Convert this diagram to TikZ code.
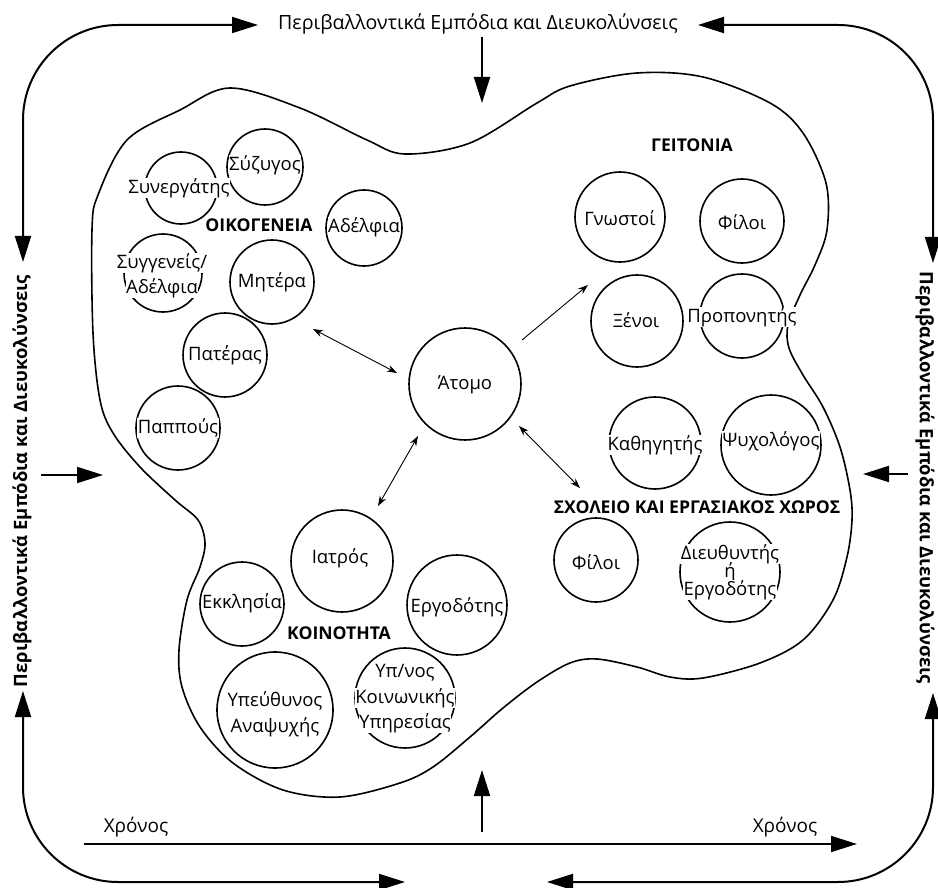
\documentclass[tikz,border=0pt]{standalone}
\usepackage{fontspec}
\setmainfont{Open Sans}
\usetikzlibrary{arrows.meta}
\begin{document}
\begin{tikzpicture}[x=1pt,y=-1pt,
  lbl/.style={font=\fontsize{18.5}{25.5}\selectfont, fill=white, inner sep=0.5pt, align=center},
  bl/.style={lbl, anchor=base},
  hdr/.style={font=\bfseries\fontsize{17.6}{20}\selectfont, inner sep=0pt},
  side/.style={font=\bfseries\fontsize{18.4}{20}\selectfont, inner sep=0pt},
  ttl/.style={font=\fontsize{19.6}{22}\selectfont, inner sep=0pt},
  circ/.style={draw, circle, line width=1.6pt, inner sep=0pt},
  frame/.style={line width=2pt},
  bigtip/.style={-{Triangle[length=26pt,width=16pt]}},
  bothtip/.style={{Triangle[length=26pt,width=16pt]}-{Triangle[length=26pt,width=16pt]}},
  thin/.style={line width=0.9pt, {Stealth[length=10pt,width=7pt]}-{Stealth[length=10pt,width=7pt]}},
  thinone/.style={line width=0.9pt, -{Stealth[length=10pt,width=7pt]}}
]
\useasboundingbox (0,0) rectangle (938,888);

% blob
\draw[line width=1.6pt] plot[smooth cycle, tension=0.55] coordinates {
 (92,230) (98,195) (127,140) (180,110) (230,88) (300,108) (367,140) (405,154)
 (470,143) (537,103) (570,86) (637,73) (703,77) (770,103) (803,133) (826,183)
 (827,230) (815,265) (800,295) (788,325) (789,348) (803,375) (823,407) (840,447)
 (850,490) (852,520) (847,557) (833,600) (803,640) (760,663) (703,678) (670,677)
 (637,667) (597,659) (570,663) (537,682) (503,708) (470,737) (433,767) (400,783)
 (340,797) (283,790) (233,763) (200,727) (182,687) (179,650) (187,600) (200,567)
 (205,543) (198,520) (175,500) (140,467) (113,433) (100,400) (93,333)};

% circles
\node[circ, minimum size=76pt] (syz) at (265,167) {};
\node[circ, minimum size=72pt] (syn) at (181,188) {};
\node[circ, minimum size=76pt] (adel) at (364,228) {};
\node[circ, minimum size=78pt] (syg) at (163,273) {};
\node[circ, minimum size=84pt] (mit) at (272,282) {};
\node[circ, minimum size=84pt] (pat) at (225,355) {};
\node[circ, minimum size=84pt] (pap) at (178,428) {};
\node[circ, minimum size=112pt] (atomo) at (465,384) {};
\node[circ, minimum size=90pt] (gnos) at (620,217) {};
\node[circ, minimum size=84pt] (fil) at (742,221) {};
\node[circ, minimum size=92pt] (xen) at (637,321) {};
\node[circ, minimum size=84pt] (prop) at (742,316) {};
\node[circ, minimum size=92pt] (kath) at (655,443) {};
\node[circ, minimum size=100pt] (psy) at (771,445) {};
\node[circ, minimum size=84pt] (fil2) at (596,560) {};
\node[circ, minimum size=100pt] (dieu) at (730,572) {};
\node[circ, minimum size=102pt] (iatr) at (342,561) {};
\node[circ, minimum size=84pt] (ekkl) at (242,604) {};
\node[circ, minimum size=100pt] (ergo) at (457,605) {};
\node[circ, minimum size=116pt] (ypeu) at (275,710) {};
\node[circ, minimum size=100pt] (ypn) at (405,698) {};

% labels
\node[lbl] (syz-t) at (265,165) {Σύζυγος};
\node[lbl] (syn-t) at (179,188) {Συνεργάτης};
\node[lbl] (adel-t) at (364,227) {Αδέλφια};
\node[bl] (syg-t1) at (162,268) {Συγγενείς/};
\node[bl] (syg-t2) at (162,293) {Αδέλφια};
\node[lbl] (mit-t) at (272,282) {Μητέρα};
\node[lbl] (pat-t) at (225,355) {Πατέρας};
\node[lbl] (pap-t) at (178,428) {Παππούς};
\node[lbl] (atomo-t) at (465,385) {Άτομο};
\node[lbl] (gnos-t) at (620,218) {Γνωστοί};
\node[lbl] (fil-t) at (742,222) {Φίλοι};
\node[lbl] (xen-t) at (636,320) {Ξένοι};
\node[lbl] (prop-t) at (742,317) {Προπονητής};
\node[lbl] (kath-t) at (655,445) {Καθηγητής};
\node[lbl] (psy-t) at (771,441) {Ψυχολόγος};
\node[lbl] (fil2-t) at (596,562) {Φίλοι};
\node[bl] (dieu-t1) at (730,559) {Διευθυντής};
\node[bl] (dieu-t2) at (730,577) {ή};
\node[bl] (dieu-t3) at (730,595) {Εργοδότης};
\node[lbl] (iatr-t) at (340,558) {Ιατρός};
\node[lbl] (ekkl-t) at (242,603) {Εκκλησία};
\node[lbl] (ergo-t) at (457,607) {Εργοδότης};
\node[bl] (ypeu-t1) at (275,706) {Υπεύθυνος};
\node[bl] (ypeu-t2) at (275,732) {Αναψυχής};
\node[bl] (ypn-t1) at (405,677) {Υπ/νος};
\node[bl] (ypn-t2) at (405,703) {Κοινωνικής};
\node[bl] (ypn-t3) at (405,728) {Υπηρεσίας};

% headings
\node[hdr] (h-oik) at (259,225) {ΟΙΚΟΓΕΝΕΙΑ};
\node[hdr] (h-geit) at (692,145) {ΓΕΙΤΟΝΙΑ};
\node[hdr] (h-sch) at (697,507) {ΣΧΟΛΕΙΟ ΚΑΙ ΕΡΓΑΣΙΑΚΟΣ ΧΩΡΟΣ};
\node[hdr] (h-koin) at (339,633) {ΚΟΙΝΟΤΗΤΑ};

% inner arrows
\coordinate (a1) at (313,329); \coordinate (a2) at (397,373);
\coordinate (b1) at (418,436); \coordinate (b2) at (378,506);
\coordinate (c1) at (522,340); \coordinate (c2) at (588,285);
\coordinate (d1) at (519,426); \coordinate (d2) at (580,488);
\draw[thin] (a1) -- (a2);
\draw[thin] (b1) -- (b2);
\draw[thinone] (c1) -- (c2);
\draw[thin] (d1) -- (d2);

% frame
\node[ttl] (title-top) at (478,24) {Περιβαλλοντικά Εμπόδια και Διευκολύνσεις};
\node[side, rotate=90] (title-left) at (22,481) {Περιβαλλοντικά Εμπόδια και Διευκολύνσεις};
\node[side, rotate=-90] (title-right) at (925,478) {Περιβαλλοντικά Εμπόδια και Διευκολύνσεις};

\coordinate (tlA) at (23,262); \coordinate (tlB) at (258,25);
\coordinate (trA) at (698,25); \coordinate (trB) at (933,263);
\coordinate (blA) at (23,691); \coordinate (blB) at (405,882);
\coordinate (brA) at (547,882); \coordinate (brB) at (933,693);
\draw[frame, bothtip, rounded corners=95pt] (tlA) |- (tlB);
\draw[frame, bothtip, rounded corners=95pt] (trA) -| (trB);
\draw[frame, bothtip, rounded corners=95pt] (blA) |- (blB);
\draw[frame, bothtip, rounded corners=95pt] (brA) -| (brB);

\coordinate (s1a) at (482,37); \coordinate (s1b) at (482,103);
\coordinate (s2a) at (41,475); \coordinate (s2b) at (103,475);
\coordinate (s3a) at (908,474); \coordinate (s3b) at (863,474);
\coordinate (s4a) at (482,832); \coordinate (s4b) at (482,770);
\draw[frame, bigtip] (s1a) -- (s1b);
\draw[frame, bigtip] (s2a) -- (s2b);
\draw[frame, bigtip] (s3a) -- (s3b);
\draw[frame, bigtip] (s4a) -- (s4b);

% time axis
\coordinate (tA) at (84,844); \coordinate (tB) at (857,844);
\draw[frame, bigtip] (tA) -- (tB);
\node[lbl, fill=none, font=\fontsize{19}{22}\selectfont] (t-left) at (136,827) {Χρόνος};
\node[lbl, fill=none, font=\fontsize{19}{22}\selectfont] (t-right) at (785,827) {Χρόνος};
\end{tikzpicture}
\end{document}
